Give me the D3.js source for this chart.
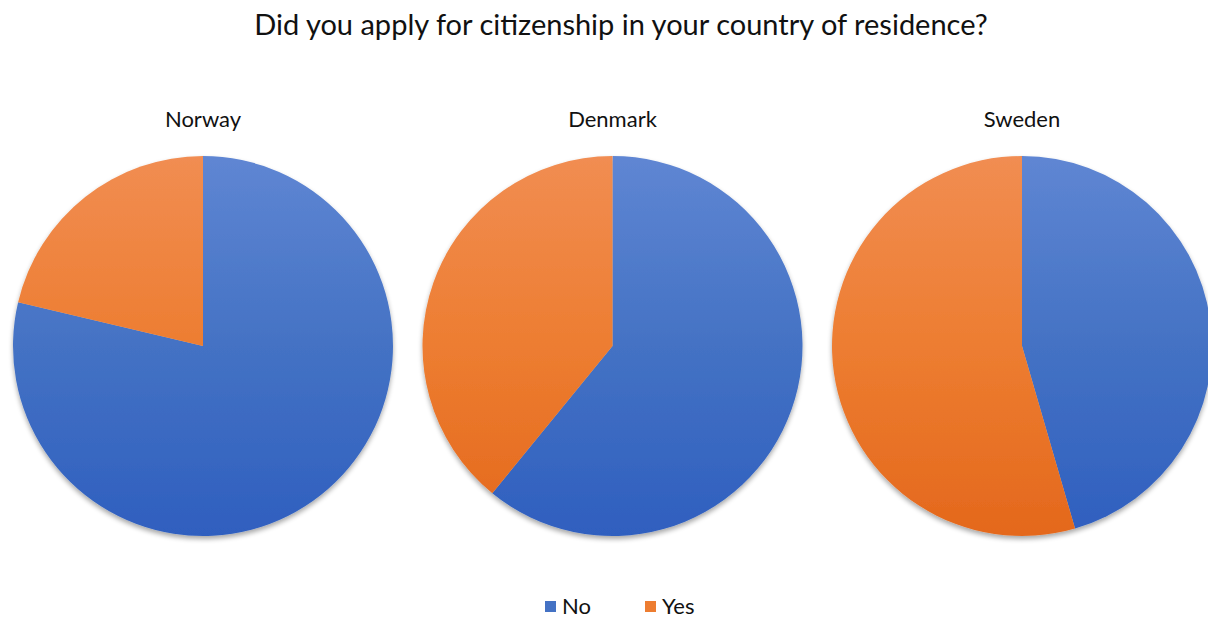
<!DOCTYPE html>
<html>
<head>
<meta charset="utf-8">
<script src="https://cdn.jsdelivr.net/npm/d3@7"></script>
<style>
  html, body { margin: 0; padding: 0; background: #fff; }
  svg { display: block; font-family: "Gill Sans", Lato, "Open Sans", sans-serif; }
</style>
</head>
<body>
<svg id="chart" width="1208" height="620"></svg>
<script>
// Survey answers per country (share of respondents)
const countries = ["Norway", "Denmark", "Sweden"];
const answers = ["No", "Yes"];
const noShare  = [0.787, 0.609, 0.455];
const yesShare = [0.213, 0.391, 0.545];
const title = "Did you apply for citizenship in your country of residence?";

const width = 1208, height = 620;
const svg = d3.select("#chart");
const defs = svg.append("defs");

const cy = 346, radius = 190;

// Vertical gradients (pie-local coordinates): lighter at the top, darker at the bottom
const gradients = [
  { id: "grad-No",  top: "#5f86d3", mid: "#4472c4", bottom: "#2f5fbf" },
  { id: "grad-Yes", top: "#f18d52", mid: "#ed7d31", bottom: "#e4681c" }
];
gradients.forEach(g => {
  const lg = defs.append("linearGradient")
    .attr("id", g.id)
    .attr("gradientUnits", "userSpaceOnUse")
    .attr("x1", 0).attr("y1", -radius).attr("x2", 0).attr("y2", radius);
  lg.append("stop").attr("offset", "0%").attr("stop-color", g.top);
  lg.append("stop").attr("offset", "50%").attr("stop-color", g.mid);
  lg.append("stop").attr("offset", "100%").attr("stop-color", g.bottom);
});

// Soft drop shadow under each pie
const shadow = defs.append("filter").attr("id", "pie-shadow")
  .attr("x", "-10%").attr("y", "-10%").attr("width", "120%").attr("height", "125%");
shadow.append("feGaussianBlur").attr("in", "SourceAlpha").attr("stdDeviation", 2.5);
shadow.append("feOffset").attr("dx", 0).attr("dy", 2.5).attr("result", "blur");
shadow.append("feComponentTransfer").append("feFuncA").attr("type", "linear").attr("slope", 0.35);
const merge = shadow.append("feMerge");
merge.append("feMergeNode");
merge.append("feMergeNode").attr("in", "SourceGraphic");

const colour = d3.scaleOrdinal().domain(answers).range(["url(#grad-No)", "url(#grad-Yes)"]);
const legendColour = d3.scaleOrdinal().domain(answers).range(["#4472c4", "#ed7d31"]);

// Chart title
svg.append("text")
  .attr("x", 621).attr("y", 35)
  .attr("text-anchor", "middle")
  .attr("font-size", 29)
  .attr("fill", "#111")
  .text(title);

const cx = d3.scalePoint().domain(countries).range([203, 1022]);

const pie = d3.pie().sort(null).value(d => d.value);
const arc = d3.arc().innerRadius(0).outerRadius(radius);

countries.forEach((country, i) => {
  const data = [
    { key: "No",  value: noShare[i] },
    { key: "Yes", value: yesShare[i] }
  ];
  const g = svg.append("g").attr("transform", `translate(${cx(country)},${cy})`);

  g.append("g").attr("filter", "url(#pie-shadow)")
    .selectAll("path")
    .data(pie(data))
    .join("path")
    .attr("d", arc)
    .attr("fill", d => colour(d.data.key));

  svg.append("text")
    .attr("x", cx(country)).attr("y", 127)
    .attr("text-anchor", "middle")
    .attr("font-size", 22)
    .attr("fill", "#111")
    .text(country);
});

// Legend
const legendX = d3.scaleOrdinal().domain(answers).range([545, 645]);
const legend = svg.append("g");
answers.forEach(a => {
  legend.append("rect")
    .attr("x", legendX(a)).attr("y", 601)
    .attr("width", 11).attr("height", 11)
    .attr("fill", legendColour(a));
  legend.append("text")
    .attr("x", legendX(a) + 17).attr("y", 614)
    .attr("font-size", 22)
    .attr("fill", "#111")
    .text(a);
});
</script>
</body>
</html>
